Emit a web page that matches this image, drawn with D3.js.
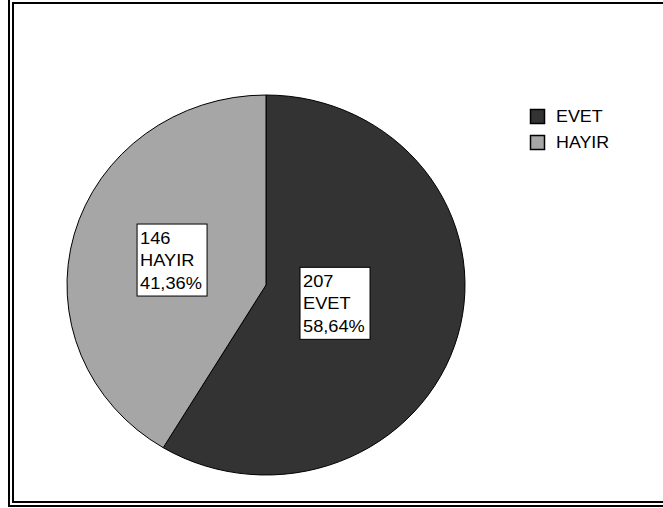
<!DOCTYPE html>
<html>
<head>
<meta charset="utf-8">
<script src="https://cdn.jsdelivr.net/npm/d3@7"></script>
<style>
body { margin: 0; background: #fff; }
svg { display: block; font-family: "Liberation Sans", Arial, sans-serif; }
</style>
</head>
<body>
<svg id="chart" width="663" height="508"></svg>
<script>
// data
var categories = ["EVET", "HAYIR"];
var counts = [207, 146];
var percents = ["58,64%", "41,36%"];
var colors = ["#333333", "#a6a6a6"];

var svg = d3.select("#chart");

// double frame
svg.append("rect").attr("x", 9).attr("y", -1).attr("width", 700).attr("height", 507)
    .attr("fill", "none").attr("stroke", "#000").attr("stroke-width", 2);
svg.append("rect").attr("x", 13).attr("y", 3).attr("width", 700).attr("height", 499)
    .attr("fill", "none").attr("stroke", "#000").attr("stroke-width", 2);

// pie (slightly wider than tall, like the original)
var cx = 266, cy = 285, ry = 190, rx = 199;
var sx = rx / ry;
var labelFrac = [0.36, 0.49];

var pie = d3.pie().sort(null).value(function (d) { return d; });
var arcs = pie(counts);
var arc = d3.arc().innerRadius(0).outerRadius(ry);

var g = svg.append("g").attr("transform", "translate(" + cx + "," + cy + ") scale(" + sx + ",1)");
g.selectAll("path").data(arcs).enter().append("path")
    .attr("d", arc)
    .attr("fill", function (d, i) { return colors[i]; })
    .attr("stroke", "#000")
    .attr("stroke-width", 1)
    .attr("vector-effect", "non-scaling-stroke");

// labels
var boxW = 70, boxH = 72;
arcs.forEach(function (d, i) {
    var a = (d.startAngle + d.endAngle) / 2;
    var r = ry * labelFrac[i];
    var px = cx + Math.sin(a) * r * sx;
    var py = cy - Math.cos(a) * r;
    var bx = px - boxW / 2, by = py - boxH / 2;
    svg.append("rect").attr("x", bx).attr("y", by).attr("width", boxW).attr("height", boxH)
        .attr("fill", "#fff").attr("stroke", "#000").attr("stroke-width", 1);
    var lines = [String(counts[i]), categories[i], percents[i]];
    lines.forEach(function (t, j) {
        svg.append("text")
            .attr("transform", "translate(" + (bx + 3) + "," + (by + 19.5 + j * 22.5) + ") scale(1.14,1)")
            .attr("font-size", 16)
            .attr("fill", "#000")
            .text(t);
    });
});

// legend
var legend = svg.append("g");
categories.forEach(function (c, i) {
    legend.append("rect").attr("x", 530.5).attr("y", 109.5 + i * 26).attr("width", 14).attr("height", 14)
        .attr("fill", colors[i]).attr("stroke", "#000").attr("stroke-width", 1.5);
    legend.append("text")
        .attr("transform", "translate(556," + (122 + i * 26) + ") scale(1.05,1)")
        .attr("font-size", 17)
        .attr("fill", "#000")
        .text(c);
});
</script>
</body>
</html>
